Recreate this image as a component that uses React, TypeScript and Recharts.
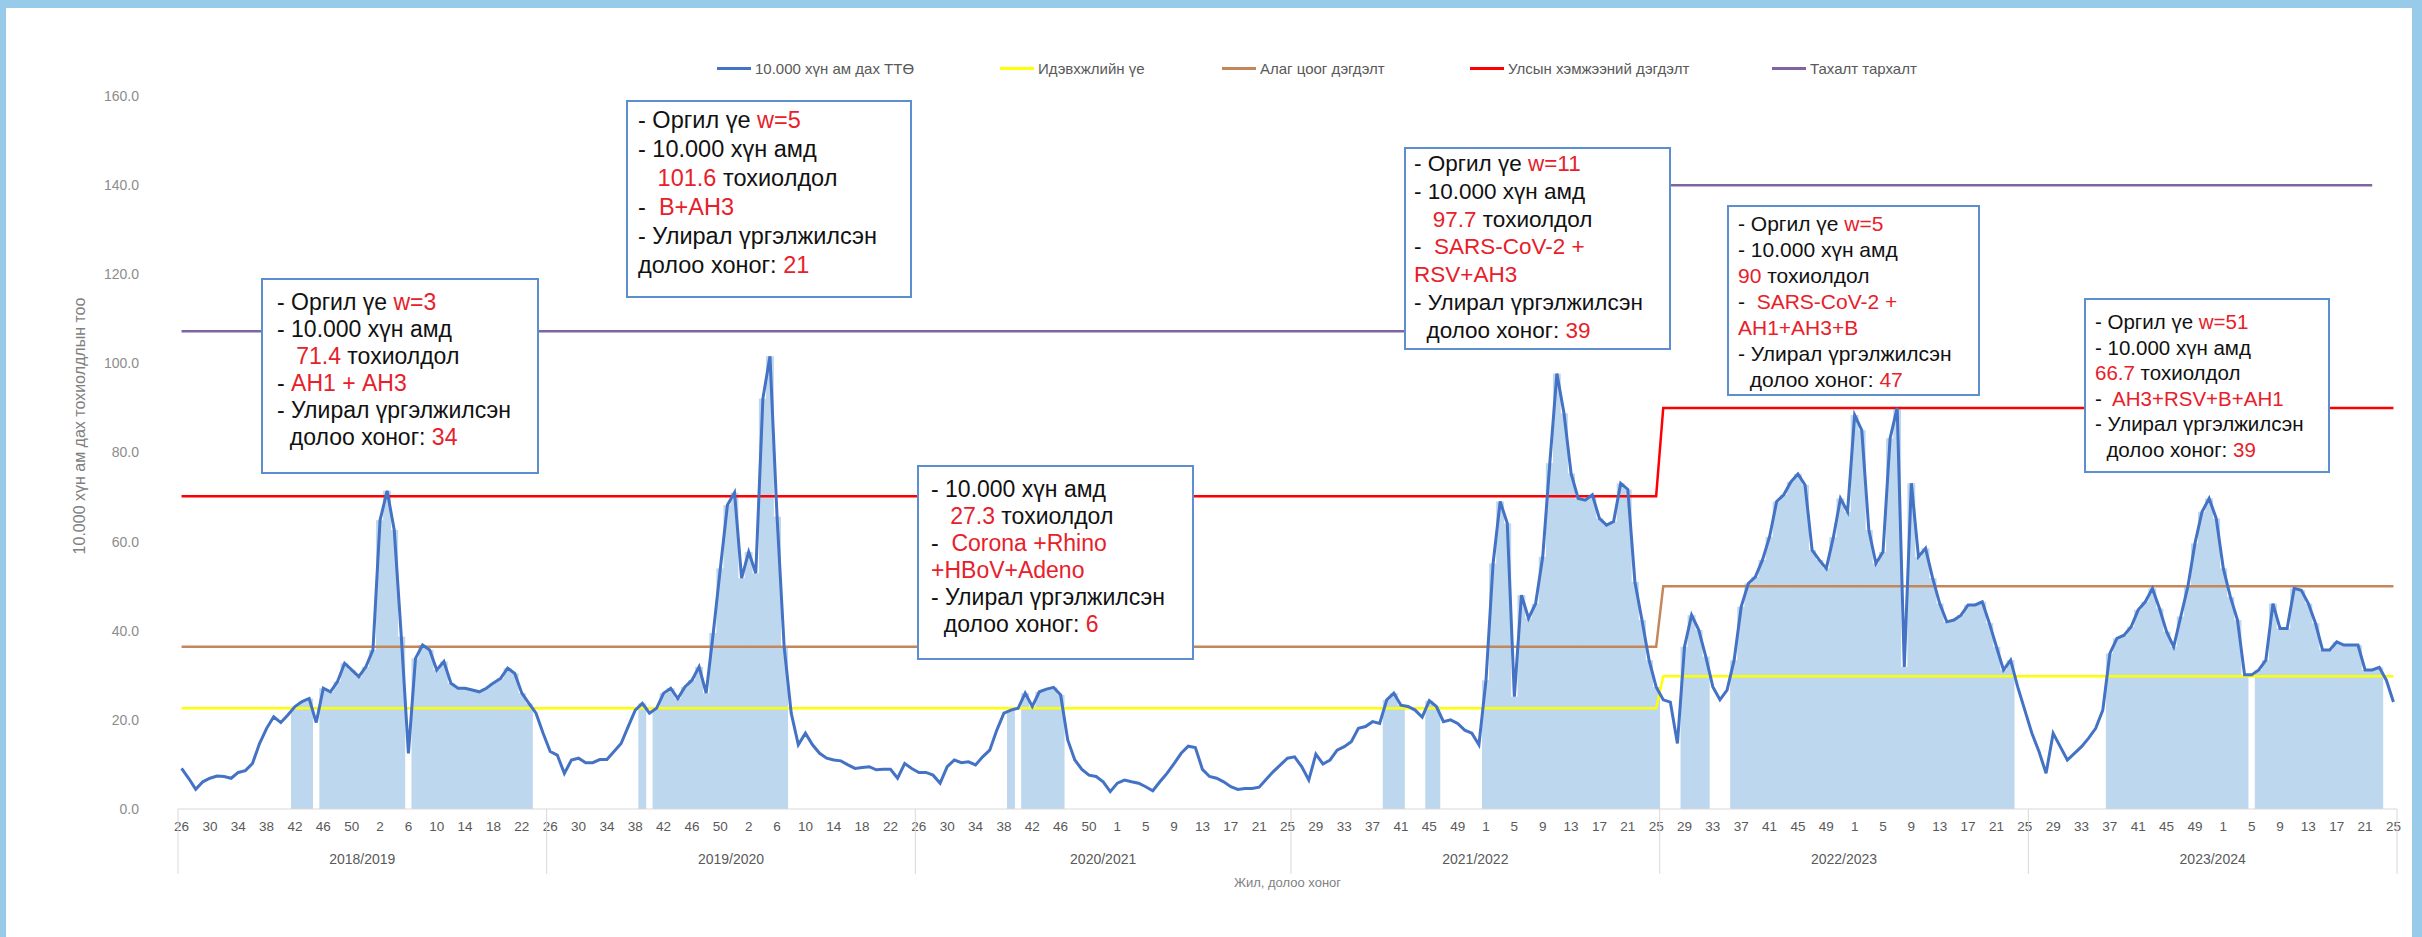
import React from 'react'
import { ComposedChart, Bar, Line, XAxis, YAxis } from 'recharts'

// seasons: week 26 of the first year to week 25 of the next
const seasonLabels = ['2018/2019', '2019/2020', '2020/2021', '2021/2022', '2022/2023', '2023/2024']
const weeksInFirstYear = [52, 52, 53, 52, 52, 52]
const firstWeek = 26

// ТТӨ per 10.000 population, weekly
const ili1819 = [
  9.1, 6.9, 4.4, 6.1, 6.9, 7.4, 7.3, 6.9, 8.2, 8.6,
  10.2, 14.7, 18.1, 20.7, 19.4, 21.1, 23.0, 24.1, 24.8, 19.4,
  27.1, 26.3, 28.6, 32.7, 31.2, 29.7, 31.9, 35.7, 64.8, 71.4,
  62.6, 38.7, 12.5, 33.8, 36.8, 35.7, 31.2, 33.1, 28.2, 27.1,
  27.1, 26.7, 26.3, 27.1, 28.3, 29.3, 31.6, 30.4, 26.0, 23.7,
  21.5, 17.0,
]
const ili1920 = [
  12.9, 12.1, 8.0, 11.0, 11.4, 10.4, 10.4, 11.1, 11.1, 12.9,
  14.7, 18.5, 22.2, 23.7, 21.5, 22.6, 26.0, 27.1, 24.8, 27.4,
  28.9, 31.9, 26.0, 39.5, 54.0, 68.2, 71.0, 51.8, 57.7, 52.9,
  92.1, 101.6, 65.6, 36.4, 21.5, 14.4, 17.0, 14.4, 12.5, 11.4,
  11.0, 10.8, 9.9, 9.1, 9.3, 9.5, 8.8, 8.9, 8.9, 6.9,
  10.2, 9.1,
]
const ili2021 = [
  8.2, 8.2, 7.6, 5.8, 9.5, 11.0, 10.4, 10.6, 9.9, 11.7,
  13.2, 17.7, 21.5, 22.2, 22.6, 26.0, 23.0, 26.3, 26.9, 27.3,
  25.6, 15.5, 11.0, 8.9, 7.6, 7.3, 6.1, 3.9, 5.8, 6.5,
  6.1, 5.8, 5.0, 4.1, 6.1, 8.0, 10.2, 12.5, 14.1, 13.8,
  8.9, 7.3, 6.9, 6.1, 5.0, 4.4, 4.6, 4.6, 4.9, 6.7,
  8.4, 9.9, 11.4,
]
const ili2122 = [
  11.7, 9.5, 6.5, 12.3, 10.1, 11.0, 13.2, 14.0, 15.1, 18.1,
  18.5, 19.6, 19.2, 24.5, 26.0, 23.3, 23.0, 22.2, 20.6, 24.3,
  23.0, 19.6, 20.0, 19.2, 17.7, 17.0, 14.4, 28.9, 55.1, 69.0,
  64.1, 25.2, 48.0, 42.8, 46.1, 56.6, 77.6, 97.7, 88.8, 75.3,
  69.7, 69.3, 70.5, 65.2, 63.7, 64.5, 73.1, 71.7, 51.0, 42.4,
  33.4, 27.4,
]
const ili2223 = [
  24.5, 24.0, 14.7, 36.4, 43.5, 40.2, 34.2, 27.4, 24.5, 26.7,
  33.4, 45.4, 50.6, 52.1, 55.9, 61.1, 69.0, 70.5, 73.4, 75.2,
  72.7, 58.1, 55.9, 54.0, 61.0, 69.7, 66.7, 88.4, 85.0, 62.6,
  55.1, 57.7, 83.2, 90.0, 31.9, 73.1, 56.6, 58.5, 51.8, 46.1,
  42.0, 42.4, 43.5, 45.8, 45.8, 46.5, 41.7, 36.4, 31.2, 33.4,
  27.4, 22.2,
]
const ili2324 = [
  17.0, 12.9, 8.0, 17.0, 14.0, 11.0, 12.5, 14.0, 15.9, 18.1,
  22.2, 34.9, 38.3, 39.0, 40.9, 44.7, 46.5, 49.5, 45.0, 39.8,
  36.4, 43.2, 49.9, 59.6, 66.7, 69.7, 65.2, 54.0, 47.6, 42.4,
  30.1, 30.1, 31.2, 33.4, 46.1, 40.5, 40.5, 49.5, 49.1, 46.1,
  41.7, 35.7, 35.7, 37.5, 36.8, 36.8, 36.8, 31.2, 31.2, 31.8,
  28.9, 24.0,
]
const iliBySeason = [ili1819, ili1920, ili2021, ili2122, ili2223, ili2324]

// shaded weeks (first, last) counted from week 26 of 2018
const epidemicRanges = [
  [16, 18], [20, 31], [33, 49],
  [65, 65], [67, 85],
  [117, 117], [119, 124],
  [170, 172], [176, 177], [184, 208],
  [212, 215], [219, 258],
  [272, 291], [293, 310],
]

// threshold levels, one value per season
const alertLevel = [22.6, 22.6, 22.6, 22.6, 29.8, 29.8]
const localOutbreakLevel = [36.4, 36.4, 36.4, 36.4, 50.0, 50.0]
const nationalOutbreakLevel = [70.2, 70.2, 70.2, 70.2, 90.0, 90.0]
const epidemicLevel = [107.2, 107.2, 107.2, 107.2, 140.0, 140.0]
const epidemicLevelLastIndex = 309

const yTicks = [0, 20, 40, 60, 80, 100, 120, 140, 160]

const legendItems = [
  { name: '10.000 хүн ам дах ТТӨ', color: '#4472C4', left: 717 },
  { name: 'Идэвхжлийн үе', color: '#FFFF00', left: 1000 },
  { name: 'Алаг цоог дэгдэлт', color: '#C4875C', left: 1222 },
  { name: 'Улсын хэмжээний дэгдэлт', color: '#FF0000', left: 1470 },
  { name: 'Тахалт тархалт', color: '#8064A2', left: 1772 },
]

type Part = [string, boolean]
const notes: { left: number; top: number; width: number; height: number; size: number; lh: number; pt: number; pl: number; lines: Part[][] }[] = [
  {
    left: 261, top: 278, width: 278, height: 196, size: 23, lh: 27, pt: 9, pl: 14,
    lines: [
      [['- Оргил үе ', false], ['w=3', true]],
      [['- 10.000 хүн амд', false]],
      [['   ', false], ['71.4', true], [' тохиолдол', false]],
      [['- ', false], ['АН1 + АН3', true]],
      [['- Улирал үргэлжилсэн', false]],
      [['  долоо хоног: ', false], ['34', true]],
    ],
  },
  {
    left: 626, top: 100, width: 286, height: 198, size: 23.5, lh: 29, pt: 4, pl: 10,
    lines: [
      [['- Оргил үе ', false], ['w=5', true]],
      [['- 10.000 хүн амд', false]],
      [['   ', false], ['101.6', true], [' тохиолдол', false]],
      [['-  ', false], ['B+AH3', true]],
      [['- Улирал үргэлжилсэн', false]],
      [['долоо хоног: ', false], ['21', true]],
    ],
  },
  {
    left: 917, top: 465, width: 277, height: 195, size: 23, lh: 27, pt: 9, pl: 12,
    lines: [
      [['- 10.000 хүн амд', false]],
      [['   ', false], ['27.3', true], [' тохиолдол', false]],
      [['-  ', false], ['Corona +Rhino', true]],
      [['+HBoV+Adeno', true]],
      [['- Улирал үргэлжилсэн', false]],
      [['  долоо хоног: ', false], ['6', true]],
    ],
  },
  {
    left: 1404, top: 147, width: 267, height: 203, size: 22.5, lh: 27.8, pt: 1, pl: 8,
    lines: [
      [['- Оргил үе ', false], ['w=11', true]],
      [['- 10.000 хүн амд', false]],
      [['   ', false], ['97.7', true], [' тохиолдол', false]],
      [['-  ', false], ['SARS-CoV-2 +', true]],
      [['RSV+AH3', true]],
      [['- Улирал үргэлжилсэн', false]],
      [['  долоо хоног: ', false], ['39', true]],
    ],
  },
  {
    left: 1727, top: 205, width: 253, height: 191, size: 21, lh: 26, pt: 4, pl: 9,
    lines: [
      [['- Оргил үе ', false], ['w=5', true]],
      [['- 10.000 хүн амд', false]],
      [['90', true], [' тохиолдол', false]],
      [['-  ', false], ['SARS-CoV-2 +', true]],
      [['АН1+АН3+В', true]],
      [['- Улирал үргэлжилсэн', false]],
      [['  долоо хоног: ', false], ['47', true]],
    ],
  },
  {
    left: 2084, top: 298, width: 246, height: 175, size: 20.5, lh: 25.5, pt: 9, pl: 9,
    lines: [
      [['- Оргил үе ', false], ['w=51', true]],
      [['- 10.000 хүн амд', false]],
      [['66.7', true], [' тохиолдол', false]],
      [['-  ', false], ['AH3+RSV+B+AH1', true]],
      [['- Улирал үргэлжилсэн', false]],
      [['  долоо хоног: ', false], ['39', true]],
    ],
  },
]

const rows: any[] = []
const seasonStarts: number[] = []
iliBySeason.forEach((vals, s) => {
  seasonStarts.push(rows.length)
  vals.forEach((v, k) => {
    const i = rows.length
    let week = firstWeek + k
    if (week > weeksInFirstYear[s]) week -= weeksInFirstYear[s]
    const shaded = epidemicRanges.some(([a, b]) => i >= a && i <= b)
    rows.push({
      i,
      week,
      ili: v,
      shade: shaded ? v : null,
      alert: alertLevel[s],
      local: localOutbreakLevel[s],
      national: nationalOutbreakLevel[s],
      epidemic: i <= epidemicLevelLastIndex ? epidemicLevel[s] : null,
    })
  })
})

const W = 2422
const H = 937
const M = { top: 96, right: 25, bottom: 48, left: 118 }
const PLOT_W = W - M.left - 60 - M.right
const BW = PLOT_W / rows.length
const FONT = "'Liberation Sans', Arial, sans-serif"

const SeasonTick = ({ x, y, payload }: any) => {
  const s = seasonStarts.indexOf(payload.value)
  if (s < 0) return <g />
  const left = x - BW / 2
  const right = left + iliBySeason[s].length * BW
  return (
    <g>
      <line x1={left} x2={left} y1={y - 30} y2={y + 35} stroke="#d9d9d9" />
      {s === seasonStarts.length - 1 && (
        <line x1={right} x2={right} y1={y - 30} y2={y + 35} stroke="#d9d9d9" />
      )}
      <text x={(left + right) / 2} y={y + 25} textAnchor="middle" fontSize={14} fill="#595959" fontFamily={FONT}>
        {seasonLabels[s]}
      </text>
    </g>
  )
}

// full-width column so neighbouring weeks join into one shaded block
const ShadeColumn = ({ x, y, width, height, fill }: any) => {
  if (!height || height <= 0) return <g />
  const cx = x + width / 2
  return <rect x={cx - BW / 2 - 0.4} y={y} width={BW + 0.8} height={height} fill={fill} />
}

export default function App() {
  return (
    <div style={{ position: 'absolute', left: 0, top: 0, width: W, height: H, background: '#fff', overflow: 'hidden', fontFamily: FONT }}>
      <ComposedChart
        width={W}
        height={H}
        data={rows}
        margin={M}
        barCategoryGap={0}
        barGap={0}
      >
        <XAxis
          xAxisId="a1"
          dataKey="i"
          interval={3}
          tickFormatter={(v: number) => String(rows[v]?.week ?? '')}
          axisLine={{ stroke: '#d9d9d9' }}
          tickLine={false}
          tickMargin={6}
          tick={{ fontSize: 13.5, fill: '#595959', fontFamily: FONT }}
          height={30}
        />
        <XAxis
          xAxisId="a2"
          dataKey="i"
          interval={0}
          axisLine={false}
          tickLine={false}
          tickSize={0}
          tickMargin={0}
          tick={<SeasonTick />}
          height={50}
          label={{ value: 'Жил, долоо хоног', position: 'insideBottom', offset: 2, fontSize: 13, fill: '#7f7f7f', fontFamily: FONT }}
        />
        <YAxis
          domain={[0, 160]}
          ticks={yTicks}
          width={60}
          axisLine={false}
          tickLine={false}
          tickSize={0}
          tickMargin={39}
          tickFormatter={(v: number) => v.toFixed(1)}
          tick={{ fontSize: 14, fill: '#8c8c8c', fontFamily: FONT }}
        />
        <Bar xAxisId="a1" dataKey="shade" fill="#BDD7EE" shape={<ShadeColumn />} isAnimationActive={false} />
        <Line xAxisId="a1" dataKey="alert" stroke="#FFFF00" strokeWidth={2.5} dot={false} activeDot={false} isAnimationActive={false} />
        <Line xAxisId="a1" dataKey="local" stroke="#C4875C" strokeWidth={2.5} dot={false} activeDot={false} isAnimationActive={false} />
        <Line xAxisId="a1" dataKey="national" stroke="#FF0000" strokeWidth={2.5} dot={false} activeDot={false} isAnimationActive={false} />
        <Line xAxisId="a1" dataKey="epidemic" stroke="#8064A2" strokeWidth={2.5} dot={false} activeDot={false} isAnimationActive={false} />
        <Line xAxisId="a2" dataKey="ili" stroke="none" dot={false} activeDot={false} isAnimationActive={false} />
        <Line xAxisId="a1" dataKey="ili" stroke="#4472C4" strokeWidth={3} dot={false} activeDot={false} isAnimationActive={false} />
      </ComposedChart>

      {/* frame */}
      <div style={{ position: 'absolute', left: 0, top: 0, width: W, height: 8, background: '#98CBEA' }} />
      <div style={{ position: 'absolute', left: 0, top: 0, width: 6, height: H, background: '#98CBEA' }} />
      <div style={{ position: 'absolute', right: 0, top: 0, width: 10, height: H, background: '#98CBEA' }} />

      {/* legend */}
      {legendItems.map(item => (
        <div key={item.name} style={{ position: 'absolute', left: item.left, top: 58, height: 20, display: 'flex', alignItems: 'center' }}>
          <span style={{ display: 'inline-block', width: 34, height: 3, background: item.color, marginRight: 4 }} />
          <span style={{ fontSize: 15, color: '#595959', whiteSpace: 'nowrap' }}>{item.name}</span>
        </div>
      ))}

      {/* y title */}
      <div style={{ position: 'absolute', left: 80, top: 426, transform: 'translate(-50%, -50%) rotate(-90deg)', fontSize: 16, color: '#7f7f7f', whiteSpace: 'nowrap' }}>
        10.000 хүн ам дах тохиолдлын тоо
      </div>

      {/* annotations */}
      {notes.map((n, idx) => (
        <div
          key={idx}
          style={{
            position: 'absolute', left: n.left, top: n.top, width: n.width, height: n.height,
            boxSizing: 'border-box', border: '2px solid #5B8FD0', background: '#fff',
            paddingTop: n.pt, paddingLeft: n.pl, fontSize: n.size, lineHeight: `${n.lh}px`, color: '#111',
          }}
        >
          {n.lines.map((line, j) => (
            <div key={j} style={{ whiteSpace: 'pre' }}>
              {line.map(([t, red], q) => (
                <span key={q} style={{ color: red ? '#E8202A' : '#111' }}>{t}</span>
              ))}
            </div>
          ))}
        </div>
      ))}
    </div>
  )
}
